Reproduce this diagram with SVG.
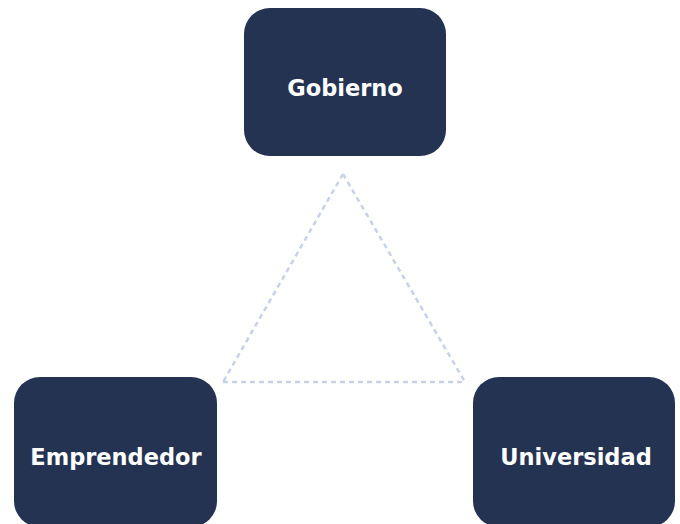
<svg xmlns="http://www.w3.org/2000/svg" width="680" height="524" viewBox="0 0 680 524">
<style>
.box{fill:#243352;}
.lbl{fill:#ffffff;font-family:"DejaVu Sans",Inter,sans-serif;font-weight:700;font-size:22.5px;text-anchor:middle;dominant-baseline:central;}
.edge{stroke:#c8d2e6;stroke-width:2.5;stroke-dasharray:5 4;fill:none;}
</style>
<rect width="680" height="524" fill="#ffffff"/>
<g id="connectors">
<line class="edge" x1="343" y1="174" x2="223" y2="382"/>
<line class="edge" x1="343" y1="174" x2="465" y2="382"/>
<line class="edge" x1="223" y1="382" x2="465" y2="382"/>
</g>
<g id="gobierno">
<rect class="box" x="244" y="8" width="202" height="148" rx="26"/>
<text class="lbl" x="345" y="88">Gobierno</text>
</g>
<g id="emprendedor">
<rect class="box" x="14" y="377" width="203" height="150" rx="26"/>
<text class="lbl" x="116" y="457">Emprendedor</text>
</g>
<g id="universidad">
<rect class="box" x="473" y="377" width="202" height="150" rx="26"/>
<text class="lbl" x="576" y="457">Universidad</text>
</g>
</svg>
